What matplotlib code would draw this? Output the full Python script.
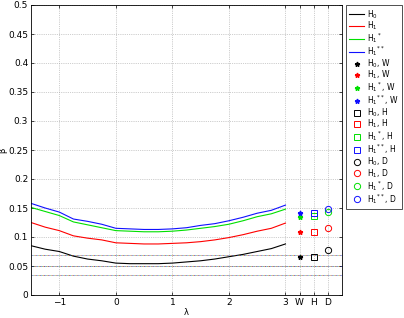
import matplotlib.pyplot as plt
import numpy as np

lam = [-1.5, -1.25, -1.0, -0.75, -0.5, -0.25, 0.0, 0.25, 0.5, 0.75, 1.0,
       1.25, 1.5, 1.75, 2.0, 2.25, 2.5, 2.75, 3.0]
h0 = [0.085, 0.079, 0.075, 0.067, 0.062, 0.059, 0.055, 0.054, 0.054, 0.054, 0.055,
      0.057, 0.059, 0.062, 0.066, 0.070, 0.075, 0.080, 0.088]
h1 = [0.125, 0.117, 0.111, 0.102, 0.098, 0.095, 0.090, 0.089, 0.088, 0.088, 0.089,
      0.090, 0.092, 0.095, 0.099, 0.104, 0.110, 0.115, 0.124]
h1s = [0.151, 0.144, 0.137, 0.126, 0.121, 0.116, 0.111, 0.110, 0.109, 0.109, 0.110,
       0.112, 0.115, 0.118, 0.122, 0.128, 0.135, 0.140, 0.148]
h1ss = [0.158, 0.150, 0.143, 0.131, 0.127, 0.122, 0.115, 0.114, 0.113, 0.113, 0.114,
        0.116, 0.120, 0.123, 0.128, 0.134, 0.141, 0.146, 0.155]

# single-point tests at W, H, D
test_pos = [3.25, 3.5, 3.75]
w_vals = [0.066, 0.109, 0.135, 0.141]
h_vals = [0.066, 0.109, 0.136, 0.141]
d_vals = [0.077, 0.116, 0.143, 0.148]

ref_levels = [0.0695, 0.05, 0.035]

colors = ["k", "r", "#00e000", "#1010ff"]
names = [r"H$_0$", r"H$_1$", r"H$_1$$^*$", r"H$_1$$^{**}$"]

fig = plt.figure(figsize=(4.04, 3.18), dpi=100)
ax = fig.add_axes([31 / 404, 23 / 318, 311 / 404, 290 / 318])

for y, c, n in zip([h0, h1, h1s, h1ss], colors, names):
    ax.plot(lam, y, color=c, linewidth=0.8, label=n)

for i, c in enumerate(colors):
    ax.plot(test_pos[0], w_vals[i], "*", color=c, markersize=3.5,
            linestyle="none", label=names[i] + ", W")
for i, c in enumerate(colors):
    ax.plot(test_pos[1], h_vals[i], "s", mfc="none", mec=c, markersize=4,
            mew=0.7, linestyle="none", label=names[i] + ", H")
for i, c in enumerate(colors):
    ax.plot(test_pos[2], d_vals[i], "o", mfc="none", mec=c, markersize=4.5,
            mew=0.7, linestyle="none", label=names[i] + ", D")

for lv in ref_levels:
    for j, c in enumerate(colors):
        ax.axhline(lv, color=c, linewidth=0.5, alpha=0.6,
                   linestyle=(j * 1.5, (1.5, 4.5)))

ax.set_xlim(-1.5, 4)
ax.set_ylim(0, 0.5)
ax.set_xticks([-1, 0, 1, 2, 3, 3.25, 3.5, 3.75])
ax.set_xticklabels(["\u22121", "0", "1", "2", "3", "W", "H", "D"])
ax.set_yticks(np.arange(0, 0.51, 0.05))
ax.set_yticklabels(["0", "0.05", "0.1", "0.15", "0.2", "0.25", "0.3",
                    "0.35", "0.4", "0.45", "0.5"])
ax.tick_params(labelsize=6.5, length=2, width=0.5, direction="in",
               top=True, right=True, pad=2)
ax.grid(True, linestyle=":", linewidth=0.5, color="#a0a0a0")
for s in ax.spines.values():
    s.set_linewidth(0.6)

ax.set_xlabel("\u03bb", fontsize=6, labelpad=1)
ax.set_ylabel("\u03b2", fontsize=6, labelpad=0)
ax.yaxis.set_label_coords(-0.075, 0.5)

leg = ax.legend(loc="upper left", bbox_to_anchor=(1.013, 1.0), fontsize=5.5,
                frameon=True, fancybox=False, edgecolor="k",
                handlelength=2.0, labelspacing=-0.12, borderaxespad=0,
                borderpad=0.4, handletextpad=0.4)
leg.get_frame().set_linewidth(0.6)

fig.savefig("out.png", dpi=100)
